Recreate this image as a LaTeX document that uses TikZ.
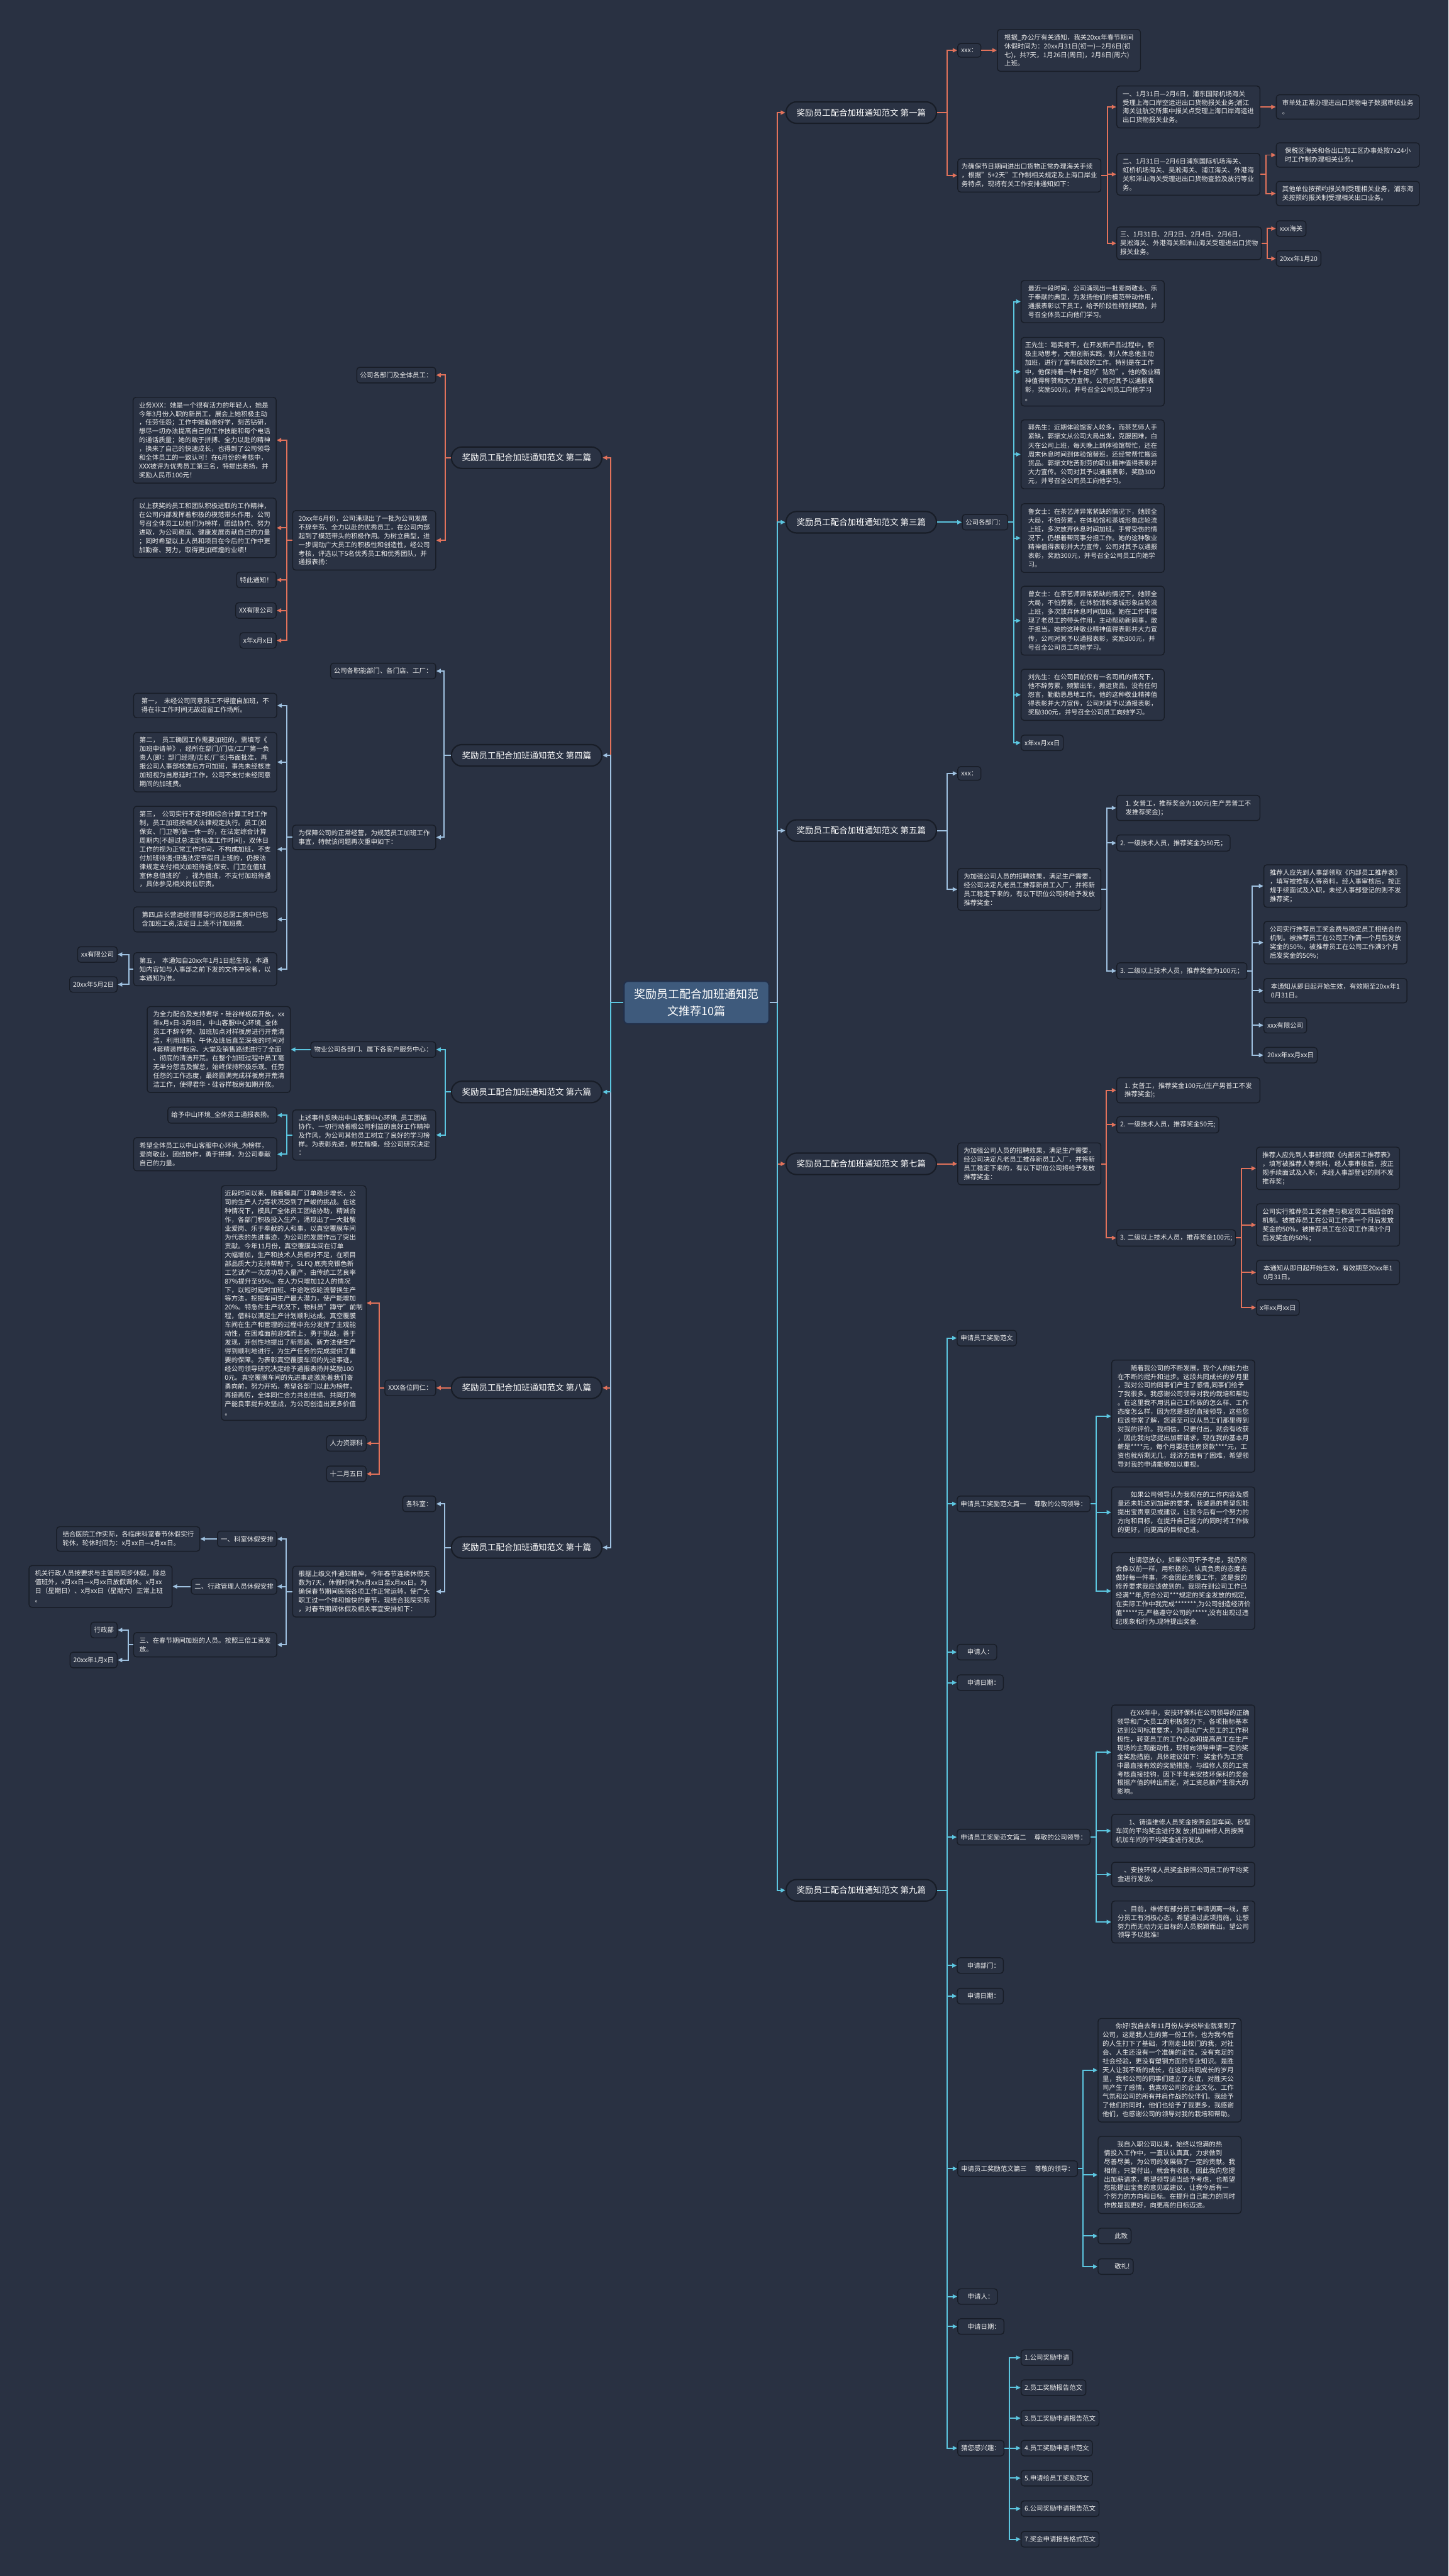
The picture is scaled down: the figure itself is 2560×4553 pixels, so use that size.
\documentclass[tikz,border=0pt]{standalone}
\usepackage{fontspec}
\setmainfont{Noto Sans CJK SC}
\usetikzlibrary{arrows.meta}
\definecolor{bgc}{HTML}{293142}
\definecolor{boxf}{HTML}{2A3243}
\definecolor{bord}{HTML}{181D27}
\definecolor{txt}{HTML}{EEEEEE}
\definecolor{corange}{HTML}{E2725B}
\definecolor{ccyan}{HTML}{5CC6E0}
\definecolor{cblue}{HTML}{9FC1E0}
\definecolor{cnf}{HTML}{3E5A7C}
\definecolor{cnb}{HTML}{22304A}
\newcommand\fA{\fontsize{2.9pt}{3.875pt}\selectfont}
\newcommand\fB{\fontsize{2.85pt}{3.925pt}\selectfont}
\newcommand\fC{\fontsize{3.75pt}{4.5pt}\selectfont}
\newcommand\fD{\fontsize{5pt}{7.5pt}\selectfont}
\begin{document}
\begin{tikzpicture}[x=0.25pt,y=-0.25pt,
 bx/.style={draw=bord, fill=boxf, line width=0.4pt, rounded corners=1.3pt, text=txt, font=\fA, align=left, inner xsep=1.5pt, inner ysep=2.1pt},
 wb/.style={bx, minimum width=63.25pt},
 br/.style={draw=bord, fill=boxf, line width=0.6pt, rounded corners=4.7pt, text=white, font=\fC, minimum width=66.5pt, minimum height=9.5pt, inner sep=1pt},
 cn/.style={draw=cnb, fill=cnf, line width=0.6pt, rounded corners=1.5pt, text=white, font=\fD, align=center, minimum width=64pt, minimum height=18.25pt},
 ln/.style={line width=0.55pt, -{Triangle[length=2pt,width=1.8pt]}},
 lo/.style={ln, corange},
 lc/.style={ln, ccyan},
 lb/.style={ln, cblue},
 aw/.style={anchor=west},
 ae/.style={anchor=east}
]
\fill[bgc] (0,0) rectangle (2560,4553);

% centre and branches
\node[cn] (C) at (1231,1772) {奖励员工配合加班通知范\\文推荐10篇};
\node[br,aw] (B1) at (1388,199) {奖励员工配合加班通知范文 第一篇};
\node[br,aw] (B3) at (1388,923) {奖励员工配合加班通知范文 第三篇};
\node[br,aw] (B5) at (1388,1468) {奖励员工配合加班通知范文 第五篇};
\node[br,aw] (B7) at (1388,2057) {奖励员工配合加班通知范文 第七篇};
\node[br,aw] (B9) at (1388,3341) {奖励员工配合加班通知范文 第九篇};
\node[br,ae] (B2) at (1065,809) {奖励员工配合加班通知范文 第二篇};
\node[br,ae] (B4) at (1065,1335) {奖励员工配合加班通知范文 第四篇};
\node[br,ae] (B6) at (1065,1930) {奖励员工配合加班通知范文 第六篇};
\node[br,ae] (B8) at (1065,2453) {奖励员工配合加班通知范文 第八篇};
\node[br,ae] (B10) at (1065,2735) {奖励员工配合加班通知范文 第十篇};

\draw[lo] (C.east) -- ++(14,0) |- (B1.west);
\draw[lo] (C.east) -- ++(14,0) |- (B7.west);
\draw[lc] (C.east) -- ++(14,0) |- (B9.west);
\draw[lc] (C.east) -- ++(14,0) |- (B3.west);
\draw[lb] (C.east) -- ++(14,0) |- (B5.west);
\draw[lo] (C.west) -- ++(-23,0) |- (B2.east);
\draw[lo] (C.west) -- ++(-23,0) |- (B8.east);
\draw[lb] (C.west) -- ++(-23,0) |- (B10.east);
\draw[lb] (C.west) -- ++(-23,0) |- (B4.east);
\draw[lc] (C.west) -- ++(-23,0) |- (B6.east);

% ---------- 第一篇
\node[bx,aw] (a1) at (1692,89) {xxx：};
\node[wb,aw] (a1t) at (1762,89) {根据\_办公厅有关通知，我关20xx年春节期间\\休假时间为：20xx月31日(初一)—2月6日(初\\七)，共7天，1月26日(周日)，2月8日(周六)\\上班。};
\node[wb,aw] (a2) at (1692,310) {为确保节日期间进出口货物正常办理海关手续\\，根据"5+2天"工作制相关规定及上海口岸业\\务特点，现将有关工作安排通知如下：};
\node[wb,aw] (a21) at (1973,189) {一、1月31日—2月6日，浦东国际机场海关\\受理上海口岸空运进出口货物报关业务;浦江\\海关驻航交所集中报关点受理上海口岸海运进\\出口货物报关业务。};
\node[wb,aw] (a21a) at (2255,189) {审单处正常办理进出口货物电子数据审核业务\\。};
\node[wb,aw] (a22) at (1973,308) {二、1月31日—2月6日浦东国际机场海关、\\虹桥机场海关、吴淞海关、浦江海关、外港海\\关和洋山海关受理进出口货物查验及放行等业\\务。};
\node[wb,aw] (a22a) at (2255,274) {保税区海关和各出口加工区办事处按7x24小\\时工作制办理相关业务。};
\node[wb,aw] (a22b) at (2255,342) {其他单位按预约报关制受理相关业务，浦东海\\关按预约报关制受理相关出口业务。};
\node[wb,aw] (a23) at (1973,430) {三、1月31日、2月2日、2月4日、2月6日，\\吴淞海关、外港海关和洋山海关受理进出口货物\\报关业务。};
\node[bx,aw] (a23a) at (2255,404) {xxx海关};
\node[bx,aw] (a23b) at (2255,457) {20xx年1月20};
\draw[lo] (B1.east) -- ++(18,0) |- (a1.west);
\draw[lo] (B1.east) -- ++(18,0) |- (a2.west);
\draw[lo] (a1.east) -- (a1t.west);
\draw[lo] (a2.east) -- ++(11,0) |- (a21.west);
\draw[lo] (a2.east) -- ++(11,0) |- (a22.west);
\draw[lo] (a2.east) -- ++(11,0) |- (a23.west);
\draw[lo] (a21.east) -- (a21a.west);
\draw[lo] (a22.east) -- ++(10,0) |- (a22a.west);
\draw[lo] (a22.east) -- ++(10,0) |- (a22b.west);
\draw[lo] (a23.east) -- ++(10,0) |- (a23a.west);
\draw[lo] (a23.east) -- ++(10,0) |- (a23b.west);

% ---------- 第三篇
\node[bx,aw,font=\fB] (c0) at (1700,923) {公司各部门：};
\node[wb,aw,font=\fB] (c1) at (1804,533) {最近一段时间，公司涌现出一批爱岗敬业、乐\\于奉献的典型，为发扬他们的模范带动作用，\\通报表彰以下员工，给予阶段性特别奖励，并\\号召全体员工向他们学习。};
\node[wb,aw,font=\fB] (c2) at (1804,657) {王先生：踏实肯干，在开发新产品过程中，积\\极主动思考，大胆创新实践，别人休息他主动\\加班，进行了富有成效的工作。特别是在工作\\中，他保持着一种十足的"钻劲"。他的敬业精\\神值得称赞和大力宣传。公司对其予以通报表\\彰，奖励500元，并号召全公司员工向他学习\\。};
\node[wb,aw,font=\fB] (c3) at (1804,803) {郭先生：近期体验馆客人较多，而茶艺师人手\\紧缺，郭振文从公司大局出发，克服困难，白\\天在公司上班，每天晚上到体验馆帮忙，还在\\周末休息时间到体验馆替班，还经常帮忙搬运\\货品。郭振文吃苦耐劳的职业精神值得表彰并\\大力宣传。公司对其予以通报表彰，奖励300\\元，并号召全公司员工向他学习。};
\node[wb,aw,font=\fB] (c4) at (1804,951) {鲁女士：在茶艺师异常紧缺的情况下，她顾全\\大局，不怕劳累，在体验馆和茶城形象店轮流\\上班，多次放弃休息时间加班。手臂受伤的情\\况下，仍想着帮同事分担工作。她的这种敬业\\精神值得表彰并大力宣传，公司对其予以通报\\表彰，奖励300元，并号召全公司员工向她学\\习。};
\node[wb,aw,font=\fB] (c5) at (1804,1097) {曾女士：在茶艺师异常紧缺的情况下，她顾全\\大局，不怕劳累，在体验馆和茶城形象店轮流\\上班，多次放弃休息时间加班。她在工作中展\\现了老员工的带头作用，主动帮助新同事，敢\\于担当。她的这种敬业精神值得表彰并大力宣\\传，公司对其予以通报表彰，奖励300元，并\\号召全公司员工向她学习。};
\node[wb,aw,font=\fB] (c6) at (1804,1228) {刘先生：在公司目前仅有一名司机的情况下，\\他不辞劳累，频繁出车，搬运货品，没有任何\\怨言，勤勤恳恳地工作。他的这种敬业精神值\\得表彰并大力宣传，公司对其予以通报表彰，\\奖励300元，并号召全公司员工向她学习。};
\node[bx,aw,font=\fB] (c7) at (1804,1313) {x年xx月xx日};
\draw[lc] (B3.east) -- (c0.west);
\foreach \n in {c1,c2,c3,c4,c5,c6,c7}
  \draw[lc] (c0.east) -- ++(10,0) |- (\n.west);

% ---------- 第五篇
\node[bx,aw] (e1) at (1692,1367) {xxx：};
\node[wb,aw] (e2) at (1692,1572) {为加强公司人员的招聘效果，满足生产需要，\\经公司决定凡老员工推荐新员工入厂，并将新\\员工稳定下来的，有以下职位公司将给予发放\\推荐奖金：};
\node[wb,aw] (e21) at (1973,1428) {1. 女普工，推荐奖金为100元(生产男普工不\\发推荐奖金)；};
\node[bx,aw] (e22) at (1973,1490) {2. 一级技术人员，推荐奖金为50元；};
\node[bx,aw] (e23) at (1973,1716) {3. 二级以上技术人员，推荐奖金为100元；};
\node[wb,aw] (e231) at (2233,1566) {推荐人应先到人事部领取《内部员工推荐表》\\，填写被推荐人等资料，经人事审核后，按正\\规手续面试及入职，未经人事部登记的则不发\\推荐奖；};
\node[wb,aw] (e232) at (2233,1666) {公司实行推荐员工奖金费与稳定员工相结合的\\机制。被推荐员工在公司工作满一个月后发放\\奖金的50\%，被推荐员工在公司工作满3个月\\后发奖金的50\%；};
\node[wb,aw] (e233) at (2233,1751) {本通知从即日起开始生效，有效期至20xx年1\\0月31日。};
\node[bx,aw] (e234) at (2233,1812) {xxx有限公司};
\node[bx,aw] (e235) at (2233,1865) {20xx年xx月xx日};
\draw[lb] (B5.east) -- ++(18,0) |- (e1.west);
\draw[lb] (B5.east) -- ++(18,0) |- (e2.west);
\foreach \n in {e21,e22,e23}
  \draw[lb] (e2.east) -- ++(10,0) |- (\n.west);
\foreach \n in {e231,e232,e233,e234,e235}
  \draw[lb] (e23.east) -- ++(9,0) |- (\n.west);

% ---------- 第七篇
\node[wb,aw] (g0) at (1692,2057) {为加强公司人员的招聘效果，满足生产需要，\\经公司决定凡老员工推荐新员工入厂，并将新\\员工稳定下来的，有以下职位公司将给予发放\\推荐奖金：};
\node[wb,aw] (g1) at (1973,1927) {1. 女普工，推荐奖金100元;(生产男普工不发\\推荐奖金);};
\node[bx,aw] (g2) at (1973,1988) {2. 一级技术人员，推荐奖金50元;};
\node[bx,aw] (g3) at (1973,2188) {3. 二级以上技术人员，推荐奖金100元;};
\node[wb,aw] (g31) at (2220,2065) {推荐人应先到人事部领取《内部员工推荐表》\\，填写被推荐人等资料，经人事审核后，按正\\规手续面试及入职，未经人事部登记的则不发\\推荐奖；};
\node[wb,aw] (g32) at (2220,2165) {公司实行推荐员工奖金费与稳定员工相结合的\\机制。被推荐员工在公司工作满一个月后发放\\奖金的50\%，被推荐员工在公司工作满3个月\\后发奖金的50\%；};
\node[wb,aw] (g33) at (2220,2249) {本通知从即日起开始生效，有效期至20xx年1\\0月31日。};
\node[bx,aw] (g34) at (2220,2311) {x年xx月xx日};
\draw[lo] (B7.east) -- (g0.west);
\foreach \n in {g1,g2,g3}
  \draw[lo] (g0.east) -- ++(9,0) |- (\n.west);
\foreach \n in {g31,g32,g33,g34}
  \draw[lo] (g3.east) -- ++(10,0) |- (\n.west);

% ---------- 第九篇
\node[bx,aw] (i1) at (1691,2365) {申请员工奖励范文};
\node[bx,aw] (i2) at (1691,2658) {申请员工奖励范文篇一　\ 尊敬的公司领导：};
\node[wb,aw] (i21) at (1964,2503) {　　随着我公司的不断发展，我个人的能力也\\在不断的提升和进步。这段共同成长的岁月里\\，我对公司的同事们产生了感情,同事们给予\\了我很多。我感谢公司领导对我的栽培和帮助\\。在这里我不用说自己工作做的怎么样、工作\\态度怎么样，因为您是我的直接领导，这些您\\应该非常了解，您甚至可以从员工们那里得到\\对我的评价。我相信，只要付出，就会有收获\\，因此我向您提出加薪请求，现在我的基本月\\薪是****元，每个月要还住房贷款****元，工\\资也就所剩无几，经济方面有了困难，希望领\\导对我的申请能够加以重视。};
\node[wb,aw] (i22) at (1964,2673) {　　如果公司领导认为我现在的工作内容及质\\量还未能达到加薪的要求，我诚恳的希望您能\\提出宝贵意见或建议，让我今后有一个努力的\\方向和目标，在提升自己能力的同时将工作做\\的更好，向更高的目标迈进。};
\node[wb,aw] (i23) at (1964,2812) {　　也请您放心，如果公司不予考虑，我仍然\\会像以前一样，用积极的、认真负责的态度去\\做好每一件事，不会因此怠慢工作，这是我的\\修养要求我应该做到的。我现在到公司工作已\\经满**年,符合公司***规定的奖金发放的规定,\\在实际工作中我完成*******,为公司创造经济价\\值*****元,严格遵守公司的*****,没有出现过违\\纪现象和行为.现特提出奖金.};
\node[bx,aw] (i3) at (1691,2920) {　申请人：};
\node[bx,aw] (i4) at (1691,2974) {　申请日期：};
\node[bx,aw] (i5) at (1691,3247) {申请员工奖励范文篇二　\ 尊敬的公司领导：};
\node[wb,aw] (i51) at (1964,3097) {　　在XX年中，安技环保科在公司领导的正确\\领导和广大员工的积极努力下，各项指标基本\\达到公司标准要求，为调动广大员工的工作积\\极性，转变员工的工作心态和提高员工在生产\\现场的主观能动性，现特向领导申请一定的奖\\金奖励措施，具体建议如下： 奖金作为工资\\中最直接有效的奖励措施，与维修人员的工资\\考核直接挂钩，因下半年来安技环保科的奖金\\根据产值的转出而定，对工资总额产生很大的\\影响。};
\node[wb,aw] (i52) at (1964,3236) {　　1、铸造维修人员奖金按照金型车间、砂型\\车间的平均奖金进行发 放;机加维修人员按照\\机加车间的平均奖金进行发放。};
\node[wb,aw] (i53) at (1964,3313) {　、安技环保人员奖金按照公司员工的平均奖\\金进行发放。};
\node[wb,aw] (i54) at (1964,3397) {　、目前，维修有部分员工申请调离一线，部\\分员工有消极心态，希望通过此项措施，让想\\努力而无动力无目标的人员脱颖而出。望公司\\领导予以批准!};
\node[bx,aw] (i6) at (1691,3474) {　申请部门：};
\node[bx,aw] (i7) at (1691,3528) {　申请日期：};
\node[bx,aw] (i8) at (1692,3833) {申请员工奖励范文篇三　\ 尊敬的领导：};
\node[wb,aw] (i81) at (1940,3659) {　　你好!我自去年11月份从学校毕业就来到了\\公司，这是我人生的第一份工作，也为我今后\\的人生打下了基础，才刚走出校门的我，对社\\会、人生还没有一个准确的定位。没有充足的\\社会经验，更没有塑钢方面的专业知识。是胜\\天人让我不断的成长，在这段共同成长的岁月\\里，我和公司的同事们建立了友谊，对胜天公\\司产生了感情，我喜欢公司的企业文化、工作\\气氛和公司的所有并肩作战的伙伴们。我给予\\了他们的同时，他们也给予了我更多，我感谢\\他们，也感谢公司的领导对我的栽培和帮助。};
\node[wb,aw] (i82) at (1940,3844) {　　我自入职公司以来，始终以饱满的热\\情投入工作中，一直认认真真，力求做到\\尽善尽美，为公司的发展做了一定的贡献。我\\相信，只要付出，就会有收获，因此我向您提\\出加薪请求，希望领导适当给予考虑，也希望\\您能提出宝贵的意见或建议，让我今后有一\\个努力的方向和目标。在提升自己能力的同时\\作做是我更好，向更高的目标迈进。};
\node[bx,aw] (i83) at (1940,3952) {　　此致};
\node[bx,aw] (i84) at (1940,4006) {　　敬礼!};
\node[bx,aw] (i9) at (1692,4059) {　申请人：};
\node[bx,aw] (i10) at (1692,4112) {　申请日期：};
\node[bx,aw] (i11) at (1692,4327) {猜您感兴趣：};
\node[bx,aw] (j1) at (1804,4167) {1.公司奖励申请};
\node[bx,aw] (j2) at (1804,4220) {2.员工奖励报告范文};
\node[bx,aw] (j3) at (1804,4274) {3.员工奖励申请报告范文};
\node[bx,aw] (j4) at (1804,4327) {4.员工奖励申请书范文};
\node[bx,aw] (j5) at (1804,4380) {5.申请给员工奖励范文};
\node[bx,aw] (j6) at (1804,4434) {6.公司奖励申请报告范文};
\node[bx,aw] (j7) at (1804,4488) {7.奖金申请报告格式范文};
\foreach \n in {i1,i2,i3,i4,i5,i6,i7,i8,i9,i10,i11}
  \draw[lc] (B9.east) -- ++(18,0) |- (\n.west);
\foreach \n in {i21,i22,i23}
  \draw[lc] (i2.east) -- ++(10,0) |- (\n.west);
\foreach \n in {i51,i52,i53,i54}
  \draw[lc] (i5.east) -- ++(10,0) |- (\n.west);
\foreach \n in {i81,i82,i83,i84}
  \draw[lc] (i8.east) -- ++(9,0) |- (\n.west);
\foreach \n in {j1,j2,j3,j4,j5,j6,j7}
  \draw[lc] (i11.east) -- ++(9,0) |- (\n.west);

% ---------- 第二篇
\node[bx,ae] (b1) at (771,663) {公司各部门及全体员工：};
\node[wb,ae] (b2) at (771,955) {20xx年6月份，公司涌现出了一批为公司发展\\不辞辛劳、全力以赴的优秀员工，在公司内部\\起到了模范带头的积极作用。为树立典型，进\\一步调动广大员工的积极性和创造性，经公司\\考核，评选以下5名优秀员工和优秀团队，并\\通报表扬：};
\node[wb,ae] (b21) at (489,778) {业务XXX：她是一个很有活力的年轻人，她是\\今年3月份入职的新员工，展会上她积极主动\\，任劳任怨；工作中她勤奋好学，刻苦钻研，\\想尽一切办法提高自己的工作技能和每个电话\\的通话质量；她的敢于拼搏、全力以赴的精神\\，换来了自己的快速成长，也得到了公司领导\\和全体员工的一致认可！在6月份的考核中，\\XXX被评为优秀员工第三名，特提出表扬，并\\奖励人民币100元！};
\node[wb,ae] (b22) at (489,933) {以上获奖的员工和团队积极进取的工作精神，\\在公司内部发挥着积极的模范带头作用，公司\\号召全体员工以他们为榜样，团结协作、努力\\进取，为公司稳固、健康发展贡献自己的力量\\；同时希望以上人员和项目在今后的工作中更\\加勤奋、努力，取得更加辉煌的业绩！};
\node[bx,ae] (b23) at (489,1025) {特此通知！};
\node[bx,ae] (b24) at (489,1079) {XX有限公司};
\node[bx,ae] (b25) at (489,1132) {x年x月x日};
\draw[lo] (B2.west) -- ++(-10,0) |- (b1.east);
\draw[lo] (B2.west) -- ++(-10,0) |- (b2.east);
\foreach \n in {b21,b22,b23,b24,b25}
  \draw[lo] (b2.west) -- ++(-10,0) |- (\n.east);

% ---------- 第四篇
\node[bx,ae] (d1) at (771,1186) {公司各职能部门、各门店、工厂：};
\node[wb,ae] (d2) at (771,1480) {为保障公司的正常经营，为规范员工加班工作\\事宜，特就该问题再次重申如下：};
\node[wb,ae] (d21) at (490,1247) {第一，\ \ 未经公司同意员工不得擅自加班，不\\得在非工作时间无故逗留工作场所。};
\node[wb,ae] (d22) at (490,1347) {第二，\ \ 员工确因工作需要加班的，需填写《\\加班申请单》，经所在部门/门店/工厂第一负\\责人(即：部门经理/店长/厂长)书面批准，再\\报公司人事部核准后方可加班，事先未经核准\\加班视为自愿延时工作，公司不支付未经同意\\期间的加班费。};
\node[wb,ae] (d23) at (490,1501) {第三，\ \ 公司实行不定时和综合计算工时工作\\制，员工加班按相关法律规定执行。员工(如\\保安、门卫等)做一休一的，在法定综合计算\\周期内(不超过总法定标准工作时间)，双休日\\工作的视为正常工作时间，不构成加班，不支\\付加班待遇;但遇法定节假日上班的，仍按法\\律规定支付相关加班待遇;保安、门卫在值班\\室休息值班的'，视为值班，不支付加班待遇\\，具体参见相关岗位职责。};
\node[wb,ae] (d24) at (490,1625) {第四,店长营运经理督导行政总厨工资中已包\\含加班工资,法定日上班不计加班费.};
\node[wb,ae] (d25) at (490,1713) {第五，\ \ 本通知自20xx年1月1日起生效，本通\\知内容如与人事部之前下发的文件冲突者，以\\本通知为准。};
\node[bx,ae] (d251) at (208,1687) {xx有限公司};
\node[bx,ae] (d252) at (208,1740) {20xx年5月2日};
\draw[lb] (B4.west) -- ++(-12,0) |- (d1.east);
\draw[lb] (B4.west) -- ++(-12,0) |- (d2.east);
\foreach \n in {d21,d22,d23,d24,d25}
  \draw[lb] (d2.west) -- ++(-10,0) |- (\n.east);
\draw[lb] (d25.west) -- ++(-8,0) |- (d251.east);
\draw[lb] (d25.west) -- ++(-8,0) |- (d252.east);

% ---------- 第六篇
\node[bx,ae] (f1) at (771,1855) {物业公司各部门、属下各客户服务中心：};
\node[wb,ae] (f11) at (514,1855) {为全力配合及支持君华•硅谷样板房开放，xx\\年x月x日-3月8日，中山客服中心环境\_全体\\员工不辞辛劳、加班加点对样板房进行开荒清\\洁，利用班前、午休及班后直至深夜的时间对\\4套精装样板房、大堂及销售路线进行了全面\\、彻底的清洁开荒。在整个加班过程中员工毫\\无半分怨言及懈怠，始终保持积极乐观、任劳\\任怨的工作态度，最终圆满完成样板房开荒清\\洁工作，使得君华•硅谷样板房如期开放。};
\node[wb,ae] (f2) at (771,2006) {上述事件反映出中山客服中心环境\_员工团结\\协作、一切行动着眼公司利益的良好工作精神\\及作风，为公司其他员工树立了良好的学习榜\\样。为表彰先进，树立楷模，经公司研究决定\\：};
\node[bx,ae] (f21) at (490,1971) {给予中山环境\_全体员工通报表扬。};
\node[wb,ae] (f22) at (490,2040) {希望全体员工以中山客服中心环境\_为榜样，\\爱岗敬业，团结协作，勇于拼搏，为公司奉献\\自己的力量。};
\draw[lc] (B6.west) -- ++(-10,0) |- (f1.east);
\draw[lc] (B6.west) -- ++(-10,0) |- (f2.east);
\draw[lc] (f1.west) -- (f11.east);
\draw[lc] (f2.west) -- ++(-9,0) |- (f21.east);
\draw[lc] (f2.west) -- ++(-9,0) |- (f22.east);

% ---------- 第八篇
\node[bx,ae] (h1) at (771,2453) {XXX各位同仁：};
\node[wb,ae] (h11) at (648,2303) {近段时间以来，随着模具厂订单稳步增长，公\\司的生产人力等状况受到了严峻的挑战。在这\\种情况下，模具厂全体员工团结协助，精诚合\\作，各部门积极投入生产，涌现出了一大批敬\\业爱岗、乐于奉献的人和事，以真空覆膜车间\\为代表的先进事迹，为公司的发展作出了突出\\贡献。今年11月份，真空覆膜车间在订单\\大幅增加，生产和技术人员相对不足，在项目\\部品质大力支持帮助下，SLFQ 底壳亮银色新\\工艺试产一次成功导入量产，由传统工艺良率\\87\%提升至95\%。在人力只增加12人的情况\\下，以短时延时加班、中途吃饭轮流替换生产\\等方法，挖掘车间生产最大潜力，使产能增加\\20\%。特急件生产状况下，物料员"蹲守"前制\\程，借料以满足生产计划顺利达成。真空覆膜\\车间在生产和管理的过程中充分发挥了主观能\\动性，在困难面前迎难而上，勇于挑战，善于\\发现，开创性地提出了新思路、新方法使生产\\得到顺利地进行，为生产任务的完成提供了重\\要的保障。为表彰真空覆膜车间的先进事迹，\\经公司领导研究决定给予通报表扬并奖励100\\0元。真空覆膜车间的先进事迹激励着我们奋\\勇向前，努力开拓，希望各部门以此为榜样，\\再接再厉，全体同仁合力共创佳绩、共同打响\\产能良率提升攻坚战，为公司创造出更多价值\\。};
\node[bx,ae] (h12) at (648,2551) {人力资源科};
\node[bx,ae] (h13) at (648,2605) {十二月五日};
\draw[lo] (B8.west) -- (h1.east);
\foreach \n in {h11,h12,h13}
  \draw[lo] (h1.west) -- ++(-9,0) |- (\n.east);

% ---------- 第十篇
\node[bx,ae] (k1) at (771,2658) {各科室：};
\node[wb,ae] (k2) at (771,2813) {根据上级文件通知精神，今年春节连续休假天\\数为7天，休假时间为x月xx日至x月xx日。为\\确保春节期间医院各项工作正常运转，使广大\\职工过一个祥和愉快的春节，现结合我院实际\\，对春节期间休假及相关事宜安排如下：};
\node[bx,ae] (k21) at (490,2720) {一、科室休假安排};
\node[wb,ae] (k21a) at (354,2720) {结合医院工作实际，各临床科室春节休假实行\\轮休，轮休时间为：x月xx日—x月xx日。};
\node[bx,ae] (k22) at (490,2804) {二、行政管理人员休假安排};
\node[wb,ae] (k22a) at (305,2804) {机关行政人员按要求与主管局同步休假，除总\\值班外，x月xx日—x月xx日放假调休。x月xx\\日（星期日）、x月xx日（星期六）正常上班\\。};
\node[wb,ae] (k23) at (490,2907) {三、在春节期间加班的人员。按照三倍工资发\\放。};
\node[bx,ae] (k231) at (208,2881) {行政部};
\node[bx,ae] (k232) at (208,2934) {20xx年1月x日};
\draw[lb] (B10.west) -- ++(-11,0) |- (k1.east);
\draw[lb] (B10.west) -- ++(-11,0) |- (k2.east);
\foreach \n in {k21,k22,k23}
  \draw[lb] (k2.west) -- ++(-11,0) |- (\n.east);
\draw[lb] (k21.west) -- (k21a.east);
\draw[lb] (k22.west) -- (k22a.east);
\draw[lb] (k23.west) -- ++(-9,0) |- (k231.east);
\draw[lb] (k23.west) -- ++(-9,0) |- (k232.east);
\end{tikzpicture}
\end{document}
